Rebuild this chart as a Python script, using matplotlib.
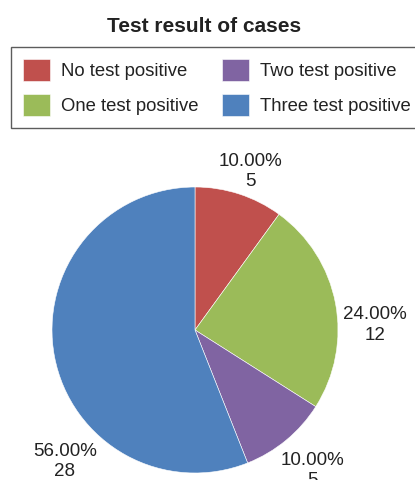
import numpy as np
import matplotlib.pyplot as plt

plt.rcParams['font.family'] = ['Liberation Sans', 'DejaVu Sans']

# data
categories = ['No test positive', 'One test positive', 'Two test positive', 'Three test positive']
counts = [5, 12, 5, 28]
colors = ['#C0504D', '#9BBB59', '#8064A2', '#4F81BD']
# where the data labels sit (pie radius = 1), moved like the original
label_pos = [(0.385, 1.11), (1.26, 0.035), (0.82, -0.98), (-0.91, -0.92)]

total = sum(counts)
labels = ['%.2f%%\n%d' % (100 * c / total, c) for c in counts]

fig = plt.figure(figsize=(4.15, 4.8), dpi=100)
ax = fig.add_axes([52 / 415, 7 / 480, 286 / 415, 286 / 480])

wedges, texts = ax.pie(counts, colors=colors, labels=labels, startangle=90,
                       counterclock=False, radius=1,
                       wedgeprops=dict(edgecolor='white', linewidth=0.4),
                       textprops=dict(fontsize=13.5, color='#222222'))
for t, (x, y) in zip(texts, label_pos):
    t.set_position((x, y))
    t.set_ha('center')
    t.set_va('center')
    t.set_multialignment('center')
    t.set_linespacing(1.25)
    t.set_clip_on(False)

ax.set_xlim(-1, 1)
ax.set_ylim(-1, 1)
ax.set_aspect('equal')
ax.axis('off')

fig.text(204 / 415, 1 - 27 / 480, 'Test result of cases', ha='center', va='center',
         fontsize=15, fontweight='bold', color='#222222')

leg = fig.legend(wedges, categories, ncol=2, loc='upper left',
                 bbox_to_anchor=(11 / 415, 1 - 47 / 480),
                 fontsize=13.3, handlelength=1.45, handleheight=1.45,
                 handletextpad=0.6, labelspacing=0.72, columnspacing=1.3,
                 borderaxespad=0, fancybox=False, frameon=True, borderpad=0.65)
leg.get_frame().set_edgecolor('#333333')
leg.get_frame().set_linewidth(1.0)
for t in leg.get_texts():
    t.set_color('#222222')

plt.savefig('out.png', dpi=100)
